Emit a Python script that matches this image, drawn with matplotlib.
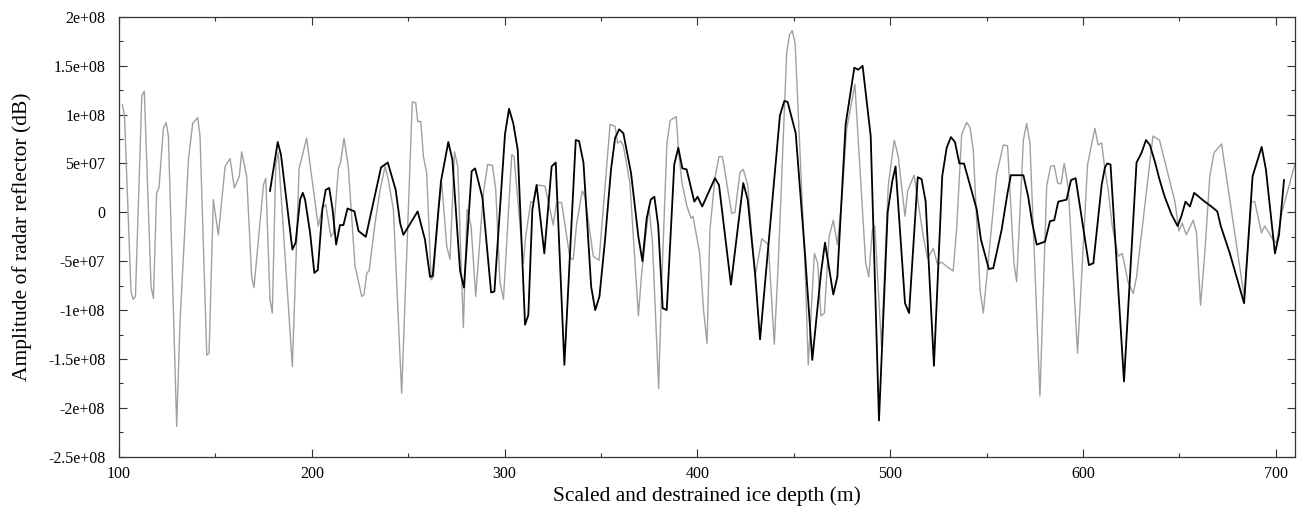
import numpy as np
import matplotlib
matplotlib.use("Agg")
import matplotlib.pyplot as plt
from matplotlib.ticker import MultipleLocator, FuncFormatter

# =========================================================
# DATA (amplitude in units of 1e7)
# =========================================================
gray_x = [101.7, 102.8, 106.2, 107.3, 108.5, 111.8, 113.1, 116.6, 117.8, 119.5,
          120.7, 123.0, 124.4, 125.6, 129.9, 131.6, 136.0, 138.2, 140.8, 142.0,
          145.5, 146.7, 148.9, 151.5, 155.0, 157.6, 159.8, 162.4, 163.6, 166.2,
          168.8, 170.0, 174.9, 176.1, 178.3, 179.5, 181.3, 182.6, 189.9, 193.4,
          194.7, 197.3, 203.3, 205.5, 207.2, 209.9, 211.2, 213.8, 214.9, 216.7,
          218.9, 222.4, 225.9, 227.1, 228.5, 229.7, 232.8, 235.4, 238.0, 239.7,
          242.3, 246.6, 252.1, 253.9, 254.9, 256.5, 257.9, 259.6, 261.9, 263.1,
          265.7, 267.4, 270.0, 271.7, 274.0, 275.7, 278.6, 280.5, 282.6, 285.0,
          289.0, 291.2, 293.7, 295.4, 297.6, 299.4, 303.7, 304.9, 309.7, 310.9,
          313.6, 314.8, 316.6, 320.9, 323.0, 325.2, 327.0, 329.6, 333.9, 335.6,
          337.4, 340.3, 341.7, 346.0, 349.0, 354.7, 357.3, 358.6, 360.3, 361.6,
          365.0, 369.4, 371.1, 374.9, 376.7, 379.9, 381.6, 384.2, 385.9, 389.0,
          390.2, 392.0, 394.6, 396.7, 397.7, 401.2, 403.2, 405.0, 406.5, 409.1,
          411.2, 413.0, 417.8, 419.5, 422.1, 423.8, 426.1, 429.9, 433.4, 436.8,
          439.9, 442.0, 446.3, 447.8, 449.2, 450.7, 455.8, 457.5, 460.7, 462.4,
          464.1, 465.9, 468.3, 470.5, 472.6, 474.9, 477.4, 481.7, 487.3, 488.9,
          490.7, 492.0, 495.5, 499.0, 502.1, 504.2, 507.7, 509.1, 512.4, 517.2,
          519.4, 522.4, 524.5, 526.7, 529.8, 532.7, 534.5, 537.1, 539.7, 541.4,
          543.1, 546.6, 548.3, 551.8, 555.2, 558.7, 560.9, 564.2, 565.6, 569.1,
          570.8, 572.5, 577.7, 581.2, 583.2, 585.1, 586.9, 588.6, 590.3, 592.4,
          597.2, 602.4, 606.2, 607.9, 609.7, 611.4, 613.1, 615.2, 618.3, 620.4,
          623.5, 626.1, 627.8, 636.3, 639.7, 647.7, 649.8, 651.5, 653.6, 657.2,
          658.9, 661.0, 663.2, 665.8, 668.0, 671.9, 683.6, 687.4, 689.1, 692.6,
          694.3, 698.7, 700.4, 703.3, 709.9]
gray_y = [11.0, 10.0, -8.1, -8.9, -8.6, 11.9, 12.4, -7.6, -8.8, 2.0,
          2.5, 8.6, 9.2, 7.8, -21.9, -11.3, 5.4, 9.1, 9.7, 7.8,
          -14.6, -14.4, 1.3, -2.3, 4.7, 5.5, 2.5, 3.7, 6.2, 3.7,
          -6.6, -7.7, 2.8, 3.5, -8.9, -10.3, 4.9, 6.1, -15.8, 4.5,
          5.5, 7.6, -1.4, 0.4, 0.8, -2.5, -2.1, 4.5, 5.1, 7.6,
          4.7, -5.5, -8.6, -8.4, -6.2, -6.0, -1.1, 2.3, 4.7, 3.3,
          0.3, -18.5, 11.3, 11.2, 9.3, 9.3, 5.7, 4.0, -6.9, -6.6,
          0.4, 3.0, -3.5, -4.8, 6.2, 4.7, -11.8, 0.3, -1.4, -8.6,
          2.0, 4.9, 4.8, 2.3, -7.2, -8.9, 5.9, 5.7, -5.2, -2.5,
          1.1, 1.0, 2.8, 2.7, 0.8, -1.3, 1.0, 1.0, -4.7, -4.8,
          -1.1, 2.2, 1.6, -4.5, -4.9, 9.0, 8.8, 7.1, 7.3, 6.8,
          3.0, -10.6, -6.2, 0.6, -3.1, -18.0, -6.6, 7.1, 9.4, 9.8,
          6.4, 3.0, 0.6, -0.6, -0.4, -4.2, -10.0, -13.4, -1.8, 3.5,
          5.7, 5.7, -0.1, 0.0, 4.1, 4.4, 2.8, -6.6, -2.7, -3.3,
          -13.5, -5.0, 16.3, 18.2, 18.6, 17.3, -5.2, -15.6, -4.2, -5.2,
          -10.6, -10.3, -2.5, -0.8, -3.3, 1.3, 8.5, 13.1, -5.2, -6.6,
          -1.9, -1.4, -13.7, 2.7, 7.4, 5.7, -0.4, 2.2, 3.8, -2.5,
          -4.7, -3.7, -5.3, -5.1, -5.6, -6.0, -1.6, 8.0, 9.2, 8.7,
          6.4, -7.9, -10.3, -3.1, 3.9, 6.9, 6.8, -5.2, -7.1, 7.4,
          9.1, 7.1, -18.8, 2.7, 4.7, 4.8, 3.0, 2.9, 5.0, 2.5,
          -14.4, 4.9, 8.6, 6.9, 7.1, 4.4, 2.3, -1.4, -4.5, -4.2,
          -7.2, -8.3, -6.6, 7.8, 7.4, 1.1, -1.9, -1.1, -2.3, -0.8,
          -2.1, -9.5, -4.2, 3.7, 6.1, 7.0, -8.6, 1.1, 1.1, -2.1,
          -1.4, -2.8, -3.1, 0.1, 4.9]

black_x = [178.3, 182.3, 184.0, 189.9, 191.6, 193.9, 195.3, 196.5, 199.1, 201.3,
           203.1, 205.5, 207.2, 209.0, 210.7, 212.6, 214.6, 216.4, 218.5, 222.1,
           224.2, 228.0, 235.9, 239.4, 243.5, 245.8, 247.5, 254.9, 258.7, 261.3,
           262.7, 267.0, 270.8, 272.9, 276.9, 278.9, 282.9, 284.7, 288.5, 293.0,
           294.7, 300.2, 302.3, 304.5, 306.8, 310.6, 312.3, 314.4, 316.6, 320.6,
           324.4, 326.5, 331.0, 336.9, 338.6, 340.9, 344.9, 347.0, 349.2, 352.1,
           355.2, 357.3, 359.4, 361.6, 365.6, 369.4, 371.5, 373.7, 375.8, 377.7,
           379.7, 382.0, 384.1, 388.0, 390.1, 392.2, 394.4, 398.4, 400.1, 402.5,
           409.1, 411.2, 415.2, 417.4, 423.8, 426.1, 429.9, 432.5, 442.8, 445.1,
           446.8, 451.0, 455.8, 459.6, 464.1, 466.2, 470.5, 472.6, 476.9, 481.4,
           483.5, 485.7, 489.9, 494.2, 498.7, 501.1, 502.8, 507.7, 509.8, 514.3,
           516.3, 518.4, 522.7, 527.0, 529.3, 531.5, 533.6, 535.9, 538.3, 544.9,
           547.1, 551.2, 553.5, 557.8, 560.9, 562.6, 569.1, 571.6, 573.7, 576.0,
           580.3, 582.9, 585.1, 587.2, 591.5, 593.8, 596.2, 603.1, 605.4, 609.7,
           611.4, 612.6, 614.3, 621.3, 627.8, 630.4, 632.7, 634.7, 637.3, 639.8,
           642.4, 645.9, 649.1, 651.2, 653.2, 655.5, 657.7, 660.7, 663.2, 666.6,
           669.7, 671.5, 676.2, 683.6, 688.0, 692.7, 694.9, 699.6, 701.7, 704.3]
black_y = [2.2, 7.2, 5.9, -3.8, -3.1, 1.3, 2.0, 1.3, -2.1, -6.2,
           -5.9, 0.4, 2.3, 2.5, 0.4, -3.3, -1.3, -1.3, 0.4, 0.1,
           -1.9, -2.5, 4.6, 5.1, 2.3, -1.1, -2.3, 0.1, -2.8, -6.6,
           -6.5, 3.2, 7.2, 5.4, -6.0, -7.7, 4.2, 4.5, 1.5, -8.2,
           -8.1, 8.0, 10.6, 9.1, 6.4, -11.5, -10.5, 0.3, 2.8, -4.2,
           4.7, 5.1, -15.6, 7.4, 7.3, 5.1, -7.6, -10.0, -8.6, -2.8,
           4.4, 7.6, 8.5, 8.1, 4.0, -2.5, -5.0, -0.6, 1.3, 1.6,
           -1.4, -9.8, -10.0, 4.9, 6.6, 4.5, 4.4, 1.1, 1.6, 0.6,
           3.5, 2.8, -3.8, -7.4, 3.0, 1.3, -6.2, -13.0, 9.9, 11.4,
           11.3, 8.1, -4.2, -15.1, -6.2, -3.1, -8.4, -6.6, 9.0, 14.8,
           14.6, 15.0, 7.8, -21.3, 0.0, 3.2, 4.7, -9.3, -10.3, 3.6,
           3.4, 1.1, -15.7, 3.7, 6.6, 7.7, 7.2, 5.0, 5.0, 0.3,
           -2.8, -5.8, -5.7, -1.8, 2.0, 3.8, 3.8, 1.6, -1.1, -3.3,
           -3.0, -0.9, -0.8, 1.1, 1.3, 3.3, 3.5, -5.4, -5.2, 2.8,
           4.6, 5.0, 4.9, -17.3, 5.1, 6.1, 7.4, 6.9, 5.2, 3.3,
           1.6, -0.2, -1.4, -0.3, 1.1, 0.6, 2.0, 1.5, 1.1, 0.6,
           0.1, -1.4, -4.2, -9.3, 3.7, 6.7, 4.4, -4.2, -2.3, 3.3]

SCALE = 1e7

# =========================================================
# PLOT
# =========================================================
plt.rcParams["font.family"] = ["Liberation Serif", "DejaVu Serif"]

fig = plt.figure(figsize=(13.04, 5.12), dpi=100)
ax = fig.add_axes([0.0913, 0.108, 0.9018, 0.859])

ax.plot(gray_x, np.array(gray_y) * SCALE, color="#a0a0a0", lw=1.0)
ax.plot(black_x, np.array(black_y) * SCALE, color="black", lw=1.3)

ax.set_xlim(100, 710)
ax.set_ylim(-2.5e8, 2e8)

ax.xaxis.set_major_locator(MultipleLocator(100))
ax.xaxis.set_minor_locator(MultipleLocator(50))
ax.yaxis.set_major_locator(MultipleLocator(5e7))
ax.yaxis.set_minor_locator(MultipleLocator(2.5e7))

fmt = FuncFormatter(lambda v, p: "%g" % v)
ax.xaxis.set_major_formatter(fmt)
ax.yaxis.set_major_formatter(fmt)

ax.tick_params(which="both", direction="in", top=True, right=True,
               labelsize=11.5, color="#333333")
ax.tick_params(which="major", length=6, width=0.8)
ax.tick_params(axis="y", which="major", pad=10)
ax.tick_params(axis="x", which="major", pad=7)
ax.tick_params(which="minor", length=3, width=0.8)
for s in ax.spines.values():
    s.set_color("#333333")
    s.set_linewidth(0.9)

ax.set_xlabel("Scaled and destrained ice depth (m)", fontsize=15.5)
ax.set_ylabel("Amplitude of radar reflector (dB)", fontsize=15.5)
ax.xaxis.set_label_coords(0.5, -0.068)
ax.yaxis.set_label_coords(-0.074, 0.5)

plt.savefig("out.png", dpi=100)
plt.close()
